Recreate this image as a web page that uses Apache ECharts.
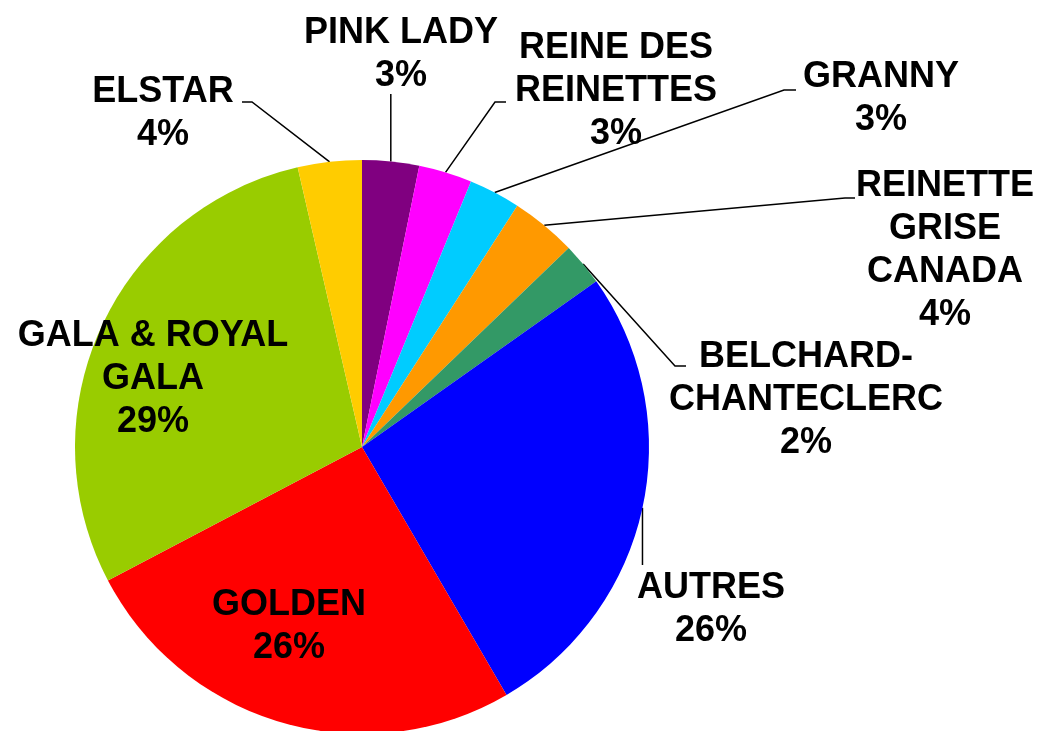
<!DOCTYPE html>
<html>
<head>
<meta charset="utf-8">
<script src="https://cdn.jsdelivr.net/npm/echarts@6/dist/echarts.min.js"></script>
<style>
html,body{margin:0;padding:0;background:#fff;}
#chart{width:1046px;height:731px;}
</style>
</head>
<body>
<div id="chart"></div>
<script>
// ---- data ----
const categories = ['PINK LADY', 'REINE DES\nREINETTES', 'GRANNY', 'REINETTE\nGRISE\nCANADA',
  'BELCHARD-\nCHANTECLERC', 'AUTRES', 'GOLDEN', 'GALA & ROYAL\nGALA', 'ELSTAR'];
const shares = [3.2, 3.0, 2.9, 3.7, 2.4, 26.4, 25.7, 29.1, 3.6];

// ---- styling / label layout (not data) ----
const colors = ['#800080', '#FF00FF', '#00CCFF', '#FF9900', '#339966', '#0000FF', '#FF0000', '#99CC00', '#FFCC00'];
const insideLabels = [false, false, false, false, false, false, true, true, false];
const labelCenters = [[401, 55], [616, 91], [881, 99], [945, 251], [806, 400], [711, 610], [289, 627], [153, 379], [163, 114]];
const leaderBends = [
  'vertical:94',
  [[495, 102], [506, 102]],
  [[784, 90], [796, 90]],
  [[845, 198], [855, 198]],
  [[675, 366], [686, 366]],
  'vertical:565',
  null, null,
  [[252, 102], [242, 102]]
];

const chart = echarts.init(document.getElementById('chart'), null, {renderer: 'canvas'});
chart.setOption({
  animation: false,
  backgroundColor: '#ffffff',
  series: [{
    type: 'pie',
    center: [362, 447],
    radius: 287,
    startAngle: 90,
    clockwise: true,
    avoidLabelOverlap: false,
    data: categories.map((name, i) => ({
      name: name,
      value: shares[i],
      itemStyle: {color: colors[i]},
      labelLine: {show: !insideLabels[i]}
    })),
    label: {
      show: true,
      formatter: p => p.name + '\n' + Math.round(p.percent) + '%',
      fontFamily: 'Liberation Sans, Arial, sans-serif',
      fontWeight: 'bold',
      fontSize: 36,
      lineHeight: 43,
      color: '#000',
      align: 'center'
    },
    labelLine: {
      show: true,
      lineStyle: {color: '#000', width: 1.5}
    },
    labelLayout: function (params) {
      const i = params.dataIndex;
      const res = {
        x: labelCenters[i][0],
        y: labelCenters[i][1],
        align: 'center',
        verticalAlign: 'middle'
      };
      const b = leaderBends[i];
      if (b && params.labelLinePoints) {
        const s = params.labelLinePoints[0];
        if (typeof b === 'string') {
          const yEnd = +b.split(':')[1];
          res.labelLinePoints = [s, [s[0], yEnd], [s[0], yEnd]];
        } else {
          res.labelLinePoints = [s].concat(b);
        }
      }
      return res;
    },
    emphasis: {disabled: true}
  }]
});
</script>
</body>
</html>
